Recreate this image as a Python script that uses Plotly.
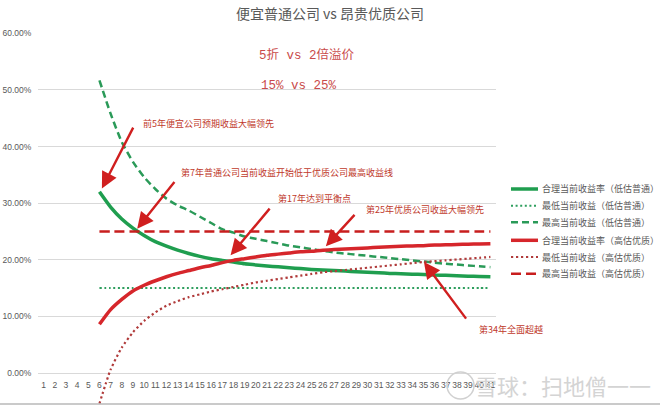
import plotly.graph_objects as go

years = list(range(6, 42))
x_labels = [str(i) for i in range(1, 42)]

# values in %
green_fair = [32.0, 29.3, 27.2, 25.6, 24.3, 23.2, 22.4, 21.7, 21.1, 20.6, 20.2, 19.9, 19.6, 19.3,
              19.1, 18.9, 18.75, 18.6, 18.45, 18.3, 18.2, 18.1, 18.0, 17.9, 17.8, 17.7, 17.6,
              17.55, 17.45, 17.4, 17.3, 17.25, 17.2, 17.1, 17.05, 17.0]
green_low = [15.0] * 36
green_high = [51.7, 45.8, 40.8, 37.3, 34.6, 32.5, 30.8, 29.6, 28.7, 27.6, 26.5, 25.4, 24.8, 24.1,
              23.7, 23.3, 22.9, 22.5, 22.2, 21.9, 21.6, 21.3, 21.1, 20.9, 20.7, 20.5, 20.3,
              20.1, 19.9, 19.7, 19.5, 19.3, 19.15, 19.0, 18.85, 18.7]
red_fair = [8.6, 11.2, 13.0, 14.5, 15.5, 16.3, 17.0, 17.6, 18.1, 18.6, 19.0, 19.5, 19.9, 20.2,
            20.5, 20.8, 21.0, 21.2, 21.4, 21.5, 21.7, 21.8, 21.9, 22.0, 22.1, 22.2, 22.3,
            22.4, 22.45, 22.5, 22.6, 22.65, 22.7, 22.75, 22.8, 22.85]
red_low = [-5.4, 0.6, 4.5, 7.2, 9.2, 10.7, 11.9, 12.7, 13.4, 13.9, 14.4, 14.8, 15.2, 15.6,
           16.0, 16.3, 16.6, 16.9, 17.2, 17.5, 17.8, 18.0, 18.2, 18.4, 18.6, 18.8, 19.0,
           19.2, 19.4, 19.6, 19.75, 19.9, 20.05, 20.2, 20.35, 20.5]
red_high = [25.0] * 36

names = ["合理当前收益率（低估普通）", "最低当前收益（低估普通）", "最高当前收益（低估普通）",
         "合理当前收益率（高估优质）", "最低当前收益（高估优质）", "最高当前收益（高估优质）"]
series = [green_fair, green_low, green_high, red_fair, red_low, red_high]
colors = ["#1f9e4f", "#2e9e5e", "#2a9a58", "#d6262b", "#b03a3a", "#c81e1e"]
widths = [3.5, 2, 2.5, 3.5, 2.2, 2.5]
dashes = ["solid", "2px,2.6px", "7px,4px", "solid", "2.2px,2.8px", "10px,5px"]

W, H = 660, 406
ML, MR, MT, MB = 38, 164, 33, 0
PW, PH = W - ML - MR, H - MT - MB


def pxx(px):
    return (px - ML) / PW


def pxy(py):
    return (H - MB - py) / PH


fig = go.Figure()
for nm, vals, c, w, d in zip(names, series, colors, widths, dashes):
    fig.add_trace(go.Scatter(x=years, y=[v / 100 for v in vals], mode="lines", name=nm,
                             showlegend=False, hoverinfo="skip",
                             line=dict(color=c, width=w, dash=d, shape="spline", smoothing=0.6)))

cjk = "Noto Sans CJK SC"
red_txt = "#c0392b"
gray = "#595959"

# custom legend (line sample + label)
leg_rows = [189, 205.7, 222.3, 240.3, 257.0, 273.7]
for nm, c, w, d, ry in zip(names, colors, widths, dashes, leg_rows):
    fig.add_shape(type="line", xref="paper", yref="paper", x0=pxx(511), x1=pxx(538),
                  y0=pxy(ry), y1=pxy(ry), line=dict(color=c, width=w, dash=d))
    fig.add_annotation(x=pxx(540), y=pxy(ry), xref="paper", yref="paper", text=nm,
                       showarrow=False, xanchor="left", yanchor="middle",
                       font=dict(family=cjk, size=9, color=gray))

# annotations: text labels
notes = [
    ("前5年便宜公司预期收益大幅领先", 9.68, 0.440),
    ("第7年普通公司当前收益开始低于优质公司最高收益线", 13.14, 0.354),
    ("第17年达到平衡点", 21.77, 0.308),
    ("第25年优质公司收益大幅领先", 29.68, 0.289),
    ("第34年全面超越", 39.82, 0.0776),
]
for t, xx, yy in notes:
    fig.add_annotation(x=xx, y=yy, xref="x", yref="y", text=t, showarrow=False,
                       xanchor="left", yanchor="middle",
                       font=dict(family=cjk, size=9, color=red_txt))

arrows = [
    ((6.22, 0.326), (9.09, 0.436)),
    ((9.38, 0.255), (12.82, 0.340)),
    ((17.74, 0.208), (21.35, 0.293)),
    ((26.27, 0.224), (28.96, 0.282)),
    ((35.05, 0.196), (38.92, 0.0935)),
]
for (tx, ty), (sx, sy) in arrows:
    fig.add_annotation(x=tx, y=ty, ax=sx, ay=sy, xref="x", yref="y", axref="x", ayref="y",
                       text="", showarrow=True, arrowhead=2, arrowsize=1.35, arrowwidth=2.4,
                       arrowcolor="#d01f1f")

# subtitle lines
mono = "Liberation Mono, " + cjk
fig.add_annotation(x=pxx(307), y=pxy(45), xref="paper", yref="paper", text="5折 vs 2倍溢价",
                   showarrow=False, font=dict(family=mono, size=12.5, color="#c94a4a"))
fig.add_annotation(x=pxx(299), y=pxy(77), xref="paper", yref="paper", text="15% vs 25%",
                   showarrow=False, font=dict(family=mono, size=12.5, color="#c94a4a"))

# watermark
fig.add_shape(type="circle", xref="paper", yref="paper", x0=pxx(447), x1=pxx(474),
              y0=pxy(399), y1=pxy(372), line=dict(color="#d0d0d0", width=1.5))
fig.add_annotation(x=pxx(563), y=pxy(385), xref="paper", yref="paper", text="雪球：扫地僧一一",
                   xanchor="center", yanchor="middle", showarrow=False,
                   font=dict(family=cjk, size=22, color="#d4d4d4"))

fig.add_shape(type="line", xref="paper", yref="paper", x0=pxx(0), x1=pxx(660),
              y0=pxy(404), y1=pxy(404), line=dict(color="#b8b8b8", width=1.5))

fig.update_layout(
    width=W, height=H,
    margin=dict(l=ML, r=MR, t=MT, b=MB),
    paper_bgcolor="white", plot_bgcolor="white",
    title=dict(text="便宜普通公司 vs 昂贵优质公司", x=0.5, xanchor="center", y=1 - 14 / H,
               yanchor="middle", font=dict(family=cjk, size=14, color=gray)),
    showlegend=False,
    hovermode=False,
    xaxis=dict(range=[0.5, 41.5], tickmode="array", tickvals=list(range(1, 42)), ticktext=x_labels,
               tickangle=0, showgrid=False, zeroline=False, showline=False,
               anchor="free", position=0.0885, ticks="outside", ticklen=4,
               tickcolor="rgba(0,0,0,0)",
               tickfont=dict(family="Liberation Sans", size=8.5, color=gray)),
    yaxis=dict(range=[-0.0582, 0.6005], tickmode="array",
               tickvals=[0, 0.1, 0.2, 0.3, 0.4, 0.5, 0.6], tickformat=".2%",
               showgrid=True, gridcolor="#d9d9d9", gridwidth=1, zeroline=False, showline=False,
               ticks="outside", ticklen=4, tickcolor="rgba(0,0,0,0)",
               tickfont=dict(family="Liberation Sans", size=8.5, color=gray)),
)

fig.write_html("out.html", config={"displayModeBar": False},
               post_script="document.body.style.margin='0';")
